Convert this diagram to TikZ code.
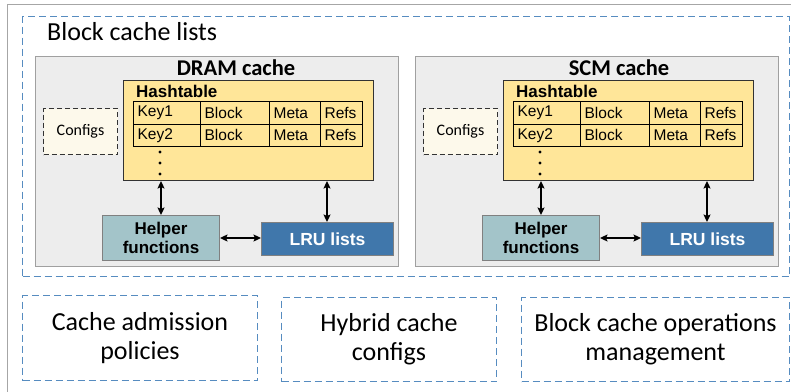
\documentclass[tikz,border=0pt]{standalone}
\usepackage{fontspec}
\setmainfont{Carlito}
\newfontfamily\arialf{Liberation Sans}
\usetikzlibrary{arrows.meta}

\definecolor{framegray}{RGB}{166,166,166}
\definecolor{dashblue}{RGB}{86,140,192}
\definecolor{panelfill}{RGB}{237,237,237}
\definecolor{panelline}{RGB}{160,160,160}
\definecolor{hashfill}{RGB}{255,230,153}
\definecolor{cfgfill}{RGB}{253,249,235}
\definecolor{helperfill}{RGB}{163,196,201}
\definecolor{lrufill}{RGB}{64,119,171}
\definecolor{boxline}{RGB}{128,128,128}

\tikzset{
  bluedash/.style={draw=dashblue, line width=1pt, dash pattern=on 7pt off 4pt},
  panel/.style={draw=panelline, fill=panelfill, line width=1pt},
  hashbox/.style={draw=black!80, fill=hashfill, line width=1pt},
  cell/.style={draw=black, line width=1.2pt, minimum height=22.5pt, inner xsep=4pt,
    inner ysep=0pt, anchor=north west, align=left, font=\arialf\fontsize{15.5}{17}\selectfont},
  cfgbox/.style={draw=black!80, fill=cfgfill, line width=1pt, dash pattern=on 5pt off 3pt},
  helperbox/.style={draw=boxline, fill=helperfill, line width=1pt, align=center,
    font=\arialf\bfseries\fontsize{17}{19}\selectfont},
  lrubox/.style={draw=boxline, fill=lrufill, line width=1pt, text=white,
    font=\arialf\bfseries\fontsize{17.5}{20}\selectfont},
  link/.style={line width=1.6pt, {Stealth[length=7.5pt,width=7pt,inset=1.5pt]}-{Stealth[length=7.5pt,width=7pt,inset=1.5pt]}},
  bigtext/.style={align=center, font=\fontsize{26}{29}\selectfont},
}

\begin{document}
\begin{tikzpicture}[x=1pt, y=-1pt]
  \clip (0,0) rectangle (791,391);
  \fill[white] (0,0) rectangle (791,391);

  % outer frame, running past the right and bottom edges
  \draw[framegray, line width=1.5pt] (7.5,4.5) rectangle (820,420);

  % dashed group holding both caches
  \node[bluedash, minimum width=767pt, minimum height=260pt, inner sep=0, anchor=north west]
    (lists) at (22,16) {};
  \node[anchor=west, inner sep=0, font=\fontsize{26}{29}\selectfont] (liststitle) at (47,32) {Block cache lists};

  % one cache panel; the second copy is shifted to the right
  \foreach \pre/\shift/\title/\tx in {dram-/0/DRAM cache/236, scm-/380/SCM cache/619} {
    \begin{scope}[xshift=\shift pt, name prefix=\pre]
      \node[panel, minimum width=363pt, minimum height=210pt, inner sep=0, anchor=north west]
        (panel) at (35,56) {};
      \node[hashbox, minimum width=250pt, minimum height=100pt, inner sep=0, anchor=north west]
        (hash) at (123,80) {};
      \node[anchor=west, inner sep=0, font=\arialf\bfseries\fontsize{17}{20}\selectfont]
        (hashtitle) at (136,91) {Hashtable};
      \foreach \r/\y in {1/101, 2/123.5} {
        \foreach \c/\x/\w/\t in {k/133/67/Key\r, b/200/69/Block, m/269/51/Meta, f/320/42/Refs} {
          \pgfmathsetmacro\tw{\w-8}
          \node[cell, text width=\tw pt] (cell-\r-\c) at (\x,\y) {\t};
        }
      }
      \foreach \i/\y in {1/152, 2/163, 3/174}
        \fill (160,\y) circle (1.6pt) coordinate (dot\i);
      \node[cfgbox, minimum width=74pt, minimum height=46pt, inner sep=0, anchor=north west]
        (cfg) at (43,108) {};
      \node (cfgtext) at (cfg.center) [font=\fontsize{16}{19}\selectfont] {Configs};
      \node[helperbox, minimum width=117pt, minimum height=45pt, inner sep=0, anchor=north west]
        (helper) at (102,215) {Helper\\functions};
      \node[lrubox, minimum width=132pt, minimum height=33pt, inner sep=0, anchor=north west]
        (lru) at (261,222) {LRU lists};
      \node[font=\bfseries\fontsize{22.5}{25}\selectfont, inner sep=0] (title) at (\tx-\shift,68) {\title};
      \draw[link] (hash.south -| 161,0) -- (helper.north -| 161,0);
      \draw[link] (hash.south -| 327,0) -- (lru.north -| 327,0);
      \draw[link] (helper.east |- 0,238) -- (lru.west |- 0,238);
    \end{scope}
  }

  % the three dashed boxes along the bottom
  \node[bluedash, bigtext, minimum width=235pt, minimum height=85pt, inner sep=0, anchor=north west]
    (admission) at (22,295) {Cache admission\\policies};
  \node[bluedash, bigtext, minimum width=215pt, minimum height=84pt, inner sep=0, anchor=north west]
    (hybrid) at (281,297) {Hybrid cache\\configs};
  \node[bluedash, bigtext, minimum width=268pt, minimum height=84pt, inner sep=0, anchor=north west]
    (ops) at (521,297) {Block cache operations\\management};
\end{tikzpicture}
\end{document}
